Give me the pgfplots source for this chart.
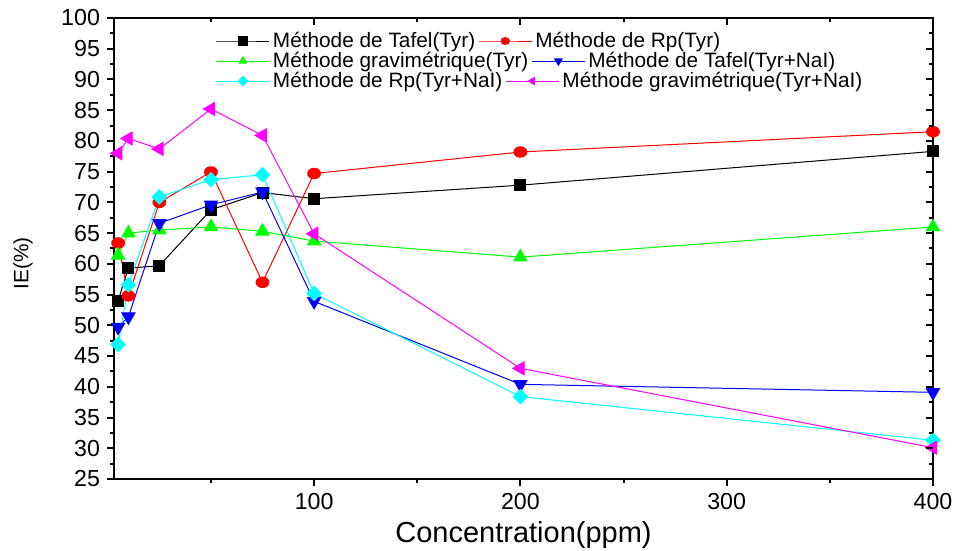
\documentclass[border=0pt]{standalone}
\usepackage{pgfplots}
\pgfplotsset{compat=1.18}
\usepackage{fontspec}
\setmainfont{Liberation Sans}
\definecolor{cgreen}{RGB}{0,255,0}
\definecolor{ccyan}{RGB}{0,255,255}
\definecolor{cmag}{RGB}{255,0,255}
\definecolor{cblue}{RGB}{0,0,255}
\definecolor{cred}{RGB}{255,0,0}
\begin{document}
\begin{tikzpicture}
\useasboundingbox (-57pt,-36pt) rectangle (420.5pt,239.5pt);
\pgfplotsset{
  common/.style={scale only axis, width=409.5pt, height=230.5pt, at={(0pt,0pt)}, anchor=south west,
    xmin=3, xmax=400, ymin=25, ymax=100},
  legimg/.style={legend image code/.code={\draw[mark repeat=2,mark phase=2, mark size=2.1pt] plot coordinates {(0pt,0pt) (13.25pt,0pt) (26.5pt,0pt)};}},
  legsty/.style={legend columns=2, legend style={draw=none, fill=none, inner sep=0pt, anchor=west,
    font=\fontsize{10.4}{12}\selectfont, column sep=0pt, nodes={inner sep=1.5pt},
    at={(axis description cs:0.1240,#1)}}},
}
\begin{axis}[common,
  axis line style={line width=1.2pt},
  xtick={100,200,300,400}, minor xtick={50,150,250,350},
  ytick={25,30,...,100}, minor ytick={27.5,32.5,...,97.5},
  xtick pos=left, ytick pos=left, tick align=outside,
  major tick length=3.5pt, minor tick length=2pt,
  every tick/.style={black, line width=1pt},
  tick label style={font=\fontsize{11.6}{13}\selectfont},
  /pgf/number format/assume math mode=true,
  xlabel={Concentration(ppm)}, ylabel={IE(\%)},
  every axis x label/.style={at={(axis description cs:0.5,-0.1215)}, anchor=center, font=\fontsize{14.5}{16}\selectfont},
  every axis y label/.style={at={(axis description cs:-0.1111,0.4675)}, rotate=90, anchor=center, font=\fontsize{10.4}{12}\selectfont},
  legimg, legsty=0.9501,
  every axis plot/.append style={line width=0.5pt},
]
\addplot[black, mark=square*, mark size=2.75pt] coordinates {(5,54.0) (10,59.3) (25,59.7) (50,68.8) (75,71.6) (100,70.6) (200,72.8) (400,78.3)};
\addlegendentry{Méthode de Tafel(Tyr)}
\addplot[cred, mark=*, mark size=3.2pt, mark options={yscale=0.82}] coordinates {(5,63.4) (10,54.8) (25,70.0) (50,74.95) (75,57.0) (100,74.7) (200,78.2) (400,81.5)};
\addlegendentry{Méthode de Rp(Tyr)}
\addplot[cgreen, mark=triangle*, mark size=3.75pt] coordinates {(5,61.4) (10,65.0) (25,65.5) (50,66.0) (75,65.3) (100,63.7) (200,61.1) (400,66.0)};
\addplot[cblue, mark=triangle*, mark size=3.75pt, mark options={rotate=180}] coordinates {(5,49.7) (10,51.4) (25,66.6) (50,69.6) (75,71.7) (100,53.9) (200,40.4) (400,39.1)};
\addplot[ccyan, mark=square*, mark size=2.5pt, mark options={rotate=45}] coordinates {(5,46.9) (10,56.6) (25,70.9) (50,73.7) (75,74.5) (100,55.2) (200,38.4) (400,31.3)};
\addplot[cmag, mark=triangle*, mark size=3.75pt, mark options={rotate=90}] coordinates {(5,78.0) (10,80.4) (25,78.7) (50,85.2) (75,80.9) (100,64.9) (200,43.0) (400,30.1)};
\end{axis}
\begin{axis}[common,
  axis line style={draw=none},
  xtick={100,200,300,400}, minor xtick={50,150,250,350},
  ytick={25,30,...,100}, minor ytick={27.5,32.5,...,97.5},
  xtick pos=right, ytick pos=right, tick align=inside,
  xticklabels={}, yticklabels={},
  major tick length=3.5pt, minor tick length=2pt,
  every tick/.style={black, line width=1pt},
  legimg, legsty=0.9067,
]
\addlegendimage{cgreen, line width=0.5pt, mark=triangle*}
\addlegendentry{Méthode gravimétrique(Tyr)}
\addlegendimage{cblue, line width=0.5pt, mark=triangle*, mark options={rotate=180}}
\addlegendentry{Méthode de Tafel(Tyr+NaI)}
\end{axis}
\begin{axis}[common, hide axis, legimg, legsty=0.8633]
\addlegendimage{ccyan, line width=0.5pt, mark=square*, mark options={rotate=45, scale=0.8}}
\addlegendentry{Méthode de Rp(Tyr+NaI)}
\addlegendimage{cmag, line width=0.5pt, mark=triangle*, mark options={rotate=90}}
\addlegendentry{Méthode gravimétrique(Tyr+NaI)}
\end{axis}
\end{tikzpicture}
\end{document}
